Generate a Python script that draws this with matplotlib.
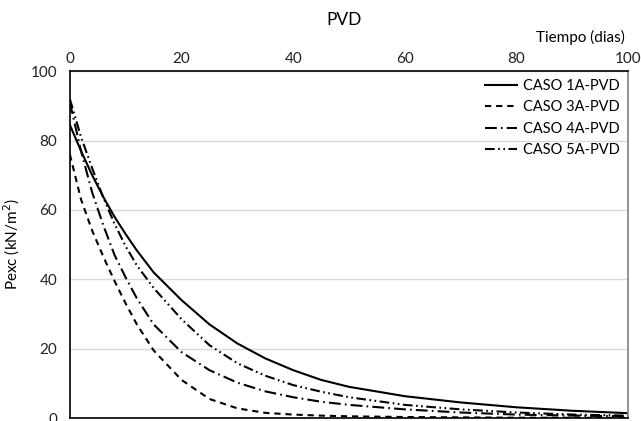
import matplotlib
matplotlib.use("Agg")
import matplotlib.pyplot as plt

plt.rcParams["font.family"] = ["Lato", "DejaVu Sans"]
plt.rcParams["lines.scale_dashes"] = False

# tiempo (dias) and excess pore pressure (kN/m2)
t_1a = [0, 2, 4, 6, 8, 10, 12, 15, 20, 25, 30, 35, 40, 45, 50, 60, 70, 80, 90, 100]
p_1a = [84.5, 77, 70, 63.7, 58, 53, 48.3, 42, 34, 27, 21.5, 17.2, 13.8, 11, 9, 6.3, 4.5, 3.1, 2.1, 1.4]

t_3a = [0, 2, 4, 6, 8, 10, 12, 15, 20, 25, 30, 35, 40, 45, 50, 60, 80, 100]
p_3a = [76, 63, 54, 46.5, 39.5, 33, 27, 19.5, 11, 5.5, 2.8, 1.5, 1.0, 0.7, 0.5, 0.3, 0.1, 0.05]

t_4a = [0, 2, 4, 6, 8, 10, 12, 15, 20, 25, 30, 35, 40, 45, 50, 60, 70, 80, 90, 100]
p_4a = [91, 77, 65, 55.5, 47, 40.5, 34.5, 27, 19, 13.8, 10.2, 7.7, 6, 4.7, 3.8, 2.5, 1.6, 1.0, 0.7, 0.5]

t_5a = [0, 2, 4, 6, 8, 10, 12, 15, 20, 25, 30, 35, 40, 45, 50, 60, 70, 80, 90, 100]
p_5a = [92, 81, 72, 63.5, 56, 49.5, 44, 37.5, 28.5, 21, 15.8, 12.2, 9.5, 7.6, 6, 3.8, 2.5, 1.6, 1.0, 0.7]

labels = ["CASO 1A-PVD", "CASO 3A-PVD", "CASO 4A-PVD", "CASO 5A-PVD"]
styles = ["-", (0, (4.5, 3.5)), (0, (8.5, 3, 1.2, 3)), (0, (7, 2.5, 1.2, 2.5, 1.2, 2.5))]

fig = plt.figure(figsize=(6.41, 4.21), dpi=100)
ax = fig.add_axes([0.109, 0.007, 0.871, 0.824])

for t, p, label, ls in zip([t_1a, t_3a, t_4a, t_5a], [p_1a, p_3a, p_4a, p_5a], labels, styles):
    ax.plot(t, p, color="black", lw=1.5, linestyle=ls, label=label)

ax.set_xlim(0, 100)
ax.set_ylim(0, 100)
ax.set_xticks(range(0, 101, 20))
ax.set_yticks(range(0, 101, 20))
ax.xaxis.tick_top()
ax.tick_params(length=0, labelsize=11, colors="#222222")
ax.tick_params(axis="x", pad=4)
ax.tick_params(axis="y", pad=9)
ax.grid(axis="y", color="#d9d9d9", lw=1)
ax.set_axisbelow(True)

for side in ["left", "bottom", "top"]:
    ax.spines[side].set_color("black")
    ax.spines[side].set_linewidth(1.2)
ax.spines["right"].set_color("#808080")
ax.spines["right"].set_linewidth(1.2)

ax.set_ylabel("Pexc (kN/m$^2$)", fontsize=11, labelpad=6)
fig.text(0.905, 0.912, "Tiempo (dias)", fontsize=11, ha="center", va="center")
fig.text(0.537, 0.952, "PVD", fontsize=12.5, ha="center", va="center")

ax.legend(loc="upper right", frameon=False, fontsize=10.5, handlelength=2.2,
          handletextpad=0.4, labelspacing=0.5, borderaxespad=0.15)

fig.savefig("out.png", dpi=100, facecolor="white")
